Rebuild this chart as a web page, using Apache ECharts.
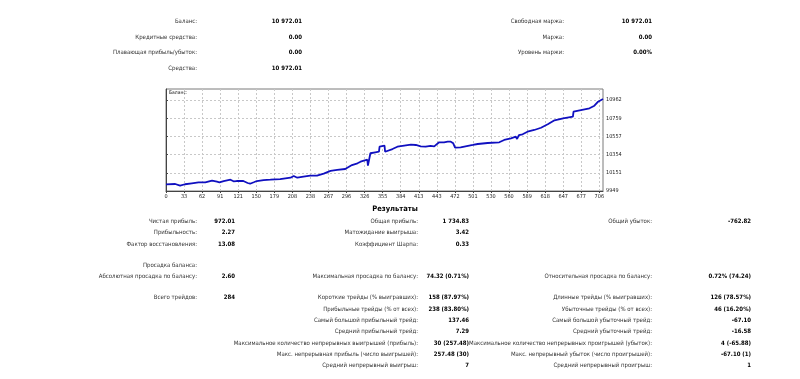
<!DOCTYPE html>
<html><head><meta charset="utf-8">
<script src="https://cdn.jsdelivr.net/npm/echarts@6/dist/echarts.min.js"></script>
<style>html,body{margin:0;padding:0;background:#fff}#c{width:800px;height:379px}</style>
</head><body><div id="c"></div>
<script>
// ---- chart data ----
const tradeIdx = [0,15,23,31,42,53,56,64,75,83,87,94,105,110,115,126,133,137,143,148,159,170,186,203,208,214,224,235,238,246,257,268,279,292,295,303,312,317,328,329,332,333,341,347,348,356,357,360,369,377,388,399,407,415,423,431,434,437,445,453,459,464,468,471,480,483,500,508,524,543,551,562,570,572,575,581,589,600,611,622,633,647,663,664,676,690,698,704,712];
const balance = [10022,10027,10008,10024,10035,10046,10027,10046,10064,10053,10046,10060,10075,10057,10060,10060,10038,10030,10046,10060,10071,10075,10082,10097,10116,10097,10108,10119,10101,10119,10142,10172,10183,10194,10208,10238,10257,10275,10297,10231,10231,10369,10380,10386,10442,10453,10386,10386,10416,10442,10453,10464,10461,10446,10442,10450,10461,10446,10491,10491,10498,10498,10480,10431,10435,10453,10461,10472,10483,10491,10517,10535,10553,10528,10572,10580,10609,10628,10653,10691,10736,10758,10776,10832,10850,10869,10898,10943,10972];
const xTickLabels = ['0','33','62','91','121','150','179','208','238','267','296','326','355','384','413','443','472','501','530','560','589','618','647','677','706'];
const yTickValues = [9949,10151,10354,10557,10759,10962];
const xMaxTrade = 712;
const yTop = 11084;

// ---- report texts ----
const accountLabels = ['Баланс:','Кредитные средства:','Плавающая прибыль/убыток:','Средства:'];
const accountValues = ['10 972.01','0.00','0.00','10 972.01'];
const marginLabels = ['Свободная маржа:','Маржа:','Уровень маржи:'];
const marginValues = ['10 972.01','0.00','0.00%'];
const resultsTitle = 'Результаты';
const res1Labels = ['Чистая прибыль:','Прибыльность:','Фактор восстановления:'];
const res1Values = ['972.01','2.27','13.08'];
const res2Labels = ['Общая прибыль:','Матожидание выигрыша:','Коэффициент Шарпа:'];
const res2Values = ['1 734.83','3.42','0.33'];
const res3Labels = ['Общий убыток:'];
const res3Values = ['-762.82'];
const ddTitle = 'Просадка баланса:';
const ddLabels = ['Абсолютная просадка по балансу:','Максимальная просадка по балансу:','Относительная просадка по балансу:'];
const ddValues = ['2.60','74.32 (0.71%)','0.72% (74.24)'];
const totalLabel = 'Всего трейдов:';
const totalValue = '284';
const midLabels = ['Короткие трейды (% выигравших):','Прибыльные трейды (% от всех):','Самый большой прибыльный трейд:','Средний прибыльный трейд:','Максимальное количество непрерывных выигрышей (прибыль):','Макс. непрерывная прибыль (число выигрышей):','Средний непрерывный выигрыш:'];
const midValues = ['158 (87.97%)','238 (83.80%)','137.46','7.29','30 (257.48)','257.48 (30)','7'];
const rightLabels = ['Длинные трейды (% выигравших):','Убыточные трейды (% от всех):','Самый большой убыточный трейд:','Средний убыточный трейд:','Максимальное количество непрерывных проигрышей (убыток):','Макс. непрерывный убыток (число проигрышей):','Средний непрерывный проигрыш:'];
const rightValues = ['126 (78.57%)','46 (16.20%)','-67.10','-16.58','4 (-65.88)','-67.10 (1)','1'];

// ---- build ----
const FONT = '"DejaVu Sans Condensed","DejaVu Sans",sans-serif';
const texts = [];
function t(str, x, y, opts) {
  opts = opts || {};
  const bold = !!opts.bold;
  const size = opts.size || 6;
  texts.push({
    type: 'text', silent: true, z: 10,
    style: {
      text: str, x: x, y: y,
      font: (bold ? 'bold ' : '') + size + 'px ' + FONT,
      fill: opts.color || (bold ? '#000' : '#333'),
      align: opts.align || 'right', textAlign: opts.align || 'right',
      verticalAlign: 'middle', textVerticalAlign: 'middle'
    }
  });
}
function pairs(labels, values, lx, vx, ys) {
  labels.forEach((l, i) => { t(l, lx, ys[i]); if (values[i] != null) t(values[i], vx, ys[i], {bold: true}); });
}
const topY = [21, 37, 52.5, 68.5];
pairs(accountLabels, accountValues, 197, 302, topY);
pairs(marginLabels, marginValues, 564, 652, topY);
t(resultsTitle, 395, 209, {bold: true, size: 7.5, align: 'center'});
const rY = [221, 232.7, 244.3];
pairs(res1Labels, res1Values, 197, 235, rY);
pairs(res2Labels, res2Values, 418, 469, rY);
pairs(res3Labels, res3Values, 652, 751, rY);
t(ddTitle, 197, 265);
const ddX = [[197,235],[418,469],[652,751]];
ddLabels.forEach((l, i) => { t(l, ddX[i][0], 276.7); t(ddValues[i], ddX[i][1], 276.7, {bold: true}); });
t(totalLabel, 197, 297.7); t(totalValue, 235, 297.7, {bold: true});
const mY = [297.7, 309, 320.3, 331.7, 343, 354.3, 365.7];
pairs(midLabels, midValues, 418, 469, mY);
pairs(rightLabels, rightValues, 652, 751, mY);
t('Баланс:', 169, 93, {size: 5, align: 'left', color: '#222'});

const xStep = 706 / (xTickLabels.length - 1);
const xTickPos = xTickLabels.map((_, i) => i * xStep);

const chart = echarts.init(document.getElementById('c'));
chart.setOption({
  animation: false,
  backgroundColor: '#fff',
  grid: {left: 166, top: 89, width: 437, height: 102, show: true, borderColor: '#7a7a7a', borderWidth: 1, backgroundColor: '#fff'},
  xAxis: {
    type: 'value', min: 0, max: xMaxTrade,
    axisLine: {show: true, lineStyle: {color: '#444', width: 1}},
    axisTick: {show: true, length: 2, customValues: xTickPos, lineStyle: {color: '#444'}},
    axisLabel: {customValues: xTickPos, margin: 3, fontSize: 5.5, fontFamily: FONT, color: '#222',
      formatter: v => xTickLabels[Math.round(v / xStep)]},
    splitLine: {show: true, lineStyle: {color: '#c8c8c8', type: [2, 2], width: 1}}
  },
  yAxis: {
    type: 'value', position: 'right', min: yTickValues[0], max: yTop,
    axisLine: {show: true, lineStyle: {color: '#444', width: 1}},
    axisTick: {show: true, length: 2, customValues: yTickValues, lineStyle: {color: '#444'}},
    axisLabel: {customValues: yTickValues, margin: 3, fontSize: 5.5, fontFamily: FONT, color: '#222',
      formatter: v => String(Math.round(v))},
    splitLine: {show: true, lineStyle: {color: '#c8c8c8', type: [2, 2], width: 1}}
  },
  series: [{
    type: 'line', symbol: 'none', silent: true,
    data: tradeIdx.map((x, i) => [x, balance[i]]),
    lineStyle: {color: '#1010c0', width: 1.8}
  }],
  graphic: {elements: texts}
});
</script></body></html>
